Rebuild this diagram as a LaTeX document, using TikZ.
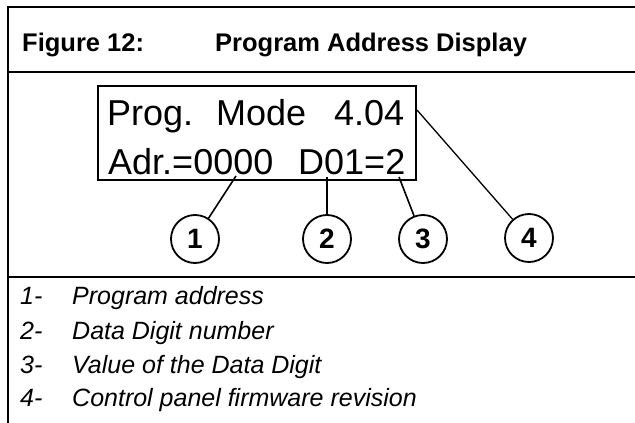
\documentclass[tikz,border=0pt]{standalone}
\usepackage{fontspec}
\setmainfont{Liberation Sans}
\usetikzlibrary{positioning}

\begin{document}
\begin{tikzpicture}[x=1pt, y=-1pt,
        frame/.style={line width=2.6pt},
        lcdbox/.style={draw, line width=2.5pt},
        lcdtext/.style={anchor=base west, inner sep=0pt, font=\fontsize{36}{40}\selectfont},
        callout/.style={circle, draw, line width=1.8pt, minimum size=48pt, inner sep=0pt,
                        font=\fontsize{28}{30}\selectfont\bfseries},
        lead/.style={line width=1.6pt},
        title/.style={anchor=base west, inner sep=0pt, font=\fontsize{25.5}{30}\selectfont\bfseries},
        item/.style={anchor=base west, inner sep=0pt, font=\fontsize{25}{28}\selectfont\itshape}
      ]
        \useasboundingbox (0,0) rectangle (635,423);

        % frame of the figure
        \draw[frame] (636,7) -- (8,7) -- (8,424);
        \draw[frame] (8,72)  -- (636,72);
        \draw[frame] (8,277) -- (636,277);

        \node[title] (fig)   at (22,51)  {Figure 12:};
        \node[title] (head)  at (215,51) {Program Address Display};

        % display
        \draw[lcdbox] (98,86) rectangle (416,180);
        \node[lcdtext] (prog) at (107,125) {Prog.};
        \node[lcdtext] (mode) at (216,125) {Mode};
        \node[lcdtext] (ver)  at (334,125) {4.04};
        \node[lcdtext] (adr)  at (108,174) {Adr.=0000};
        \node[lcdtext] (ddig) at (298,174) {D01=2};

        \coordinate (p1) at (236,176);
        \coordinate (p2) at (327,177);
        \coordinate (p3) at (399,177);
        \coordinate (p4) at (417,110);

        \node[callout] (c1) at (195,239) {1};
        \node[callout] (c2) at (327,239) {2};
        \node[callout] (c3) at (423,239) {3};
        \node[callout] (c4) at (529,238) {4};

        \draw[lead] (p1) -- (c1);
        \draw[lead] (p2) -- (c2);
        \draw[lead] (p3) -- (c3);
        \draw[lead, line width=1.3pt] (p4) -- (c4);

        % legend
        \node[item] (n1) at (20,304) {1-};
        \node[item] (n2) at (20,339) {2-};
        \node[item] (n3) at (20,373) {3-};
        \node[item] (n4) at (20,406) {4-};
        \node[item] (t1) at (72,304) {Program address};
        \node[item] (t2) at (72,339) {Data Digit number};
        \node[item] (t3) at (72,373) {Value of the Data Digit};
        \node[item] (t4) at (72,406) {Control panel firmware revision};
      \end{tikzpicture}
\end{document}
